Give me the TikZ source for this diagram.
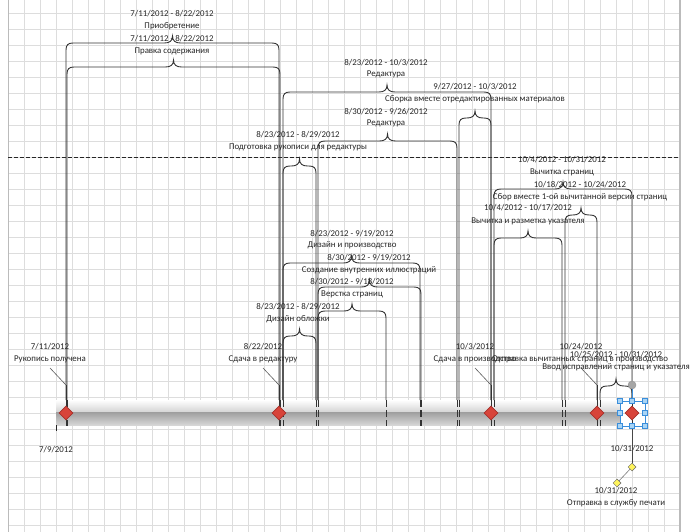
\documentclass[tikz,border=0pt]{standalone}
\usepackage{fontspec}
\setmainfont{Carlito}
\usetikzlibrary{calc,shapes.geometric}
\definecolor{ink}{HTML}{262626}
\definecolor{gridc}{HTML}{DDDDDD}
\definecolor{pagec}{HTML}{BBBBBB}
\definecolor{msred}{HTML}{D8443A}
\definecolor{msredd}{HTML}{A5302A}
\definecolor{selblue}{HTML}{3A8EDB}
\definecolor{selfill}{HTML}{A9D4F5}
\definecolor{ylw}{HTML}{FFF45C}
\definecolor{legc}{HTML}{333333}
\tikzset{
  lbl/.style={font=\fontsize{8.85}{10}\selectfont, text=ink, inner sep=0pt},
  brc/.style={draw=legc, line width=0.9pt},
  legdash/.style={draw=legc, line width=0.9pt, dash pattern=on 7pt off 3pt},
  msd/.style={diamond, draw=msredd, fill=msred, minimum width=14pt, minimum height=14pt, inner sep=0pt, line width=0.6pt},
  ymsd/.style={diamond, draw=ink!70, fill=ylw, minimum width=8pt, minimum height=8pt, inner sep=0pt, line width=0.5pt},
  handle/.style={rectangle, draw=selblue, fill=selfill, minimum size=5.5pt, inner sep=0pt, line width=0.7pt},
  leader/.style={draw=ink!75, line width=0.6pt}
}
\newcommand\tlbrace[3]{%
  \pgfmathsetmacro\bc{(#1+#2)/2}%
  \draw[brc] (#1,400) -- (#1,#3+7) .. controls (#1,#3+2) and (#1+2,#3) .. (#1+7,#3) -- (\bc-8,#3)
     .. controls (\bc-3,#3) and (\bc,#3-2) .. (\bc,#3-7)
     .. controls (\bc,#3-2) and (\bc+3,#3) .. (\bc+8,#3) -- (#2-7,#3)
     .. controls (#2-2,#3) and (#2,#3+2) .. (#2,#3+7) -- (#2,400);
  \draw[legdash] (#1,400) -- (#1,426) (#2,400) -- (#2,426);
}
\begin{document}
\begin{tikzpicture}[x=1pt,y=-1pt]
\useasboundingbox (0,0) rectangle (690,532);
\fill[white] (0,0) rectangle (690,532);
% grid
\foreach \i in {0,...,42} \draw[gridc, line width=0.6pt] (8.3+16*\i,0) -- (8.3+16*\i,532);
\foreach \j in {0,...,32} \draw[gridc, line width=0.6pt] (8.3,13.7+16*\j) -- (680,13.7+16*\j);
\draw[pagec, line width=1.2pt] (8.3,0) -- (8.3,532) (680,0) -- (680,532);
% dashed separator
\draw[ink, line width=0.8pt, dash pattern=on 4pt off 2pt] (8.3,157) -- (680,157);
% timeline bar
\begin{scope}[y=1pt]
\shade[top color=white, bottom color={rgb,255:red,212;green,212;blue,212}] (56,-412) rectangle (620,-400);
\shade[top color={rgb,255:red,158;green,158;blue,158}, bottom color={rgb,255:red,214;green,214;blue,214}] (56,-425) rectangle (620,-412);
\end{scope}
\draw[ink, line width=0.8pt] (56,425) -- (56,431);
% brackets
\tlbrace{66}{279}{43}
\tlbrace{67}{280}{67}
\tlbrace{283}{491}{92}
\tlbrace{459}{491}{118}
\tlbrace{318}{457}{141}
\tlbrace{283}{316}{166}
\tlbrace{494}{632}{189}
\tlbrace{565}{597}{215}
\tlbrace{494}{562}{238}
\tlbrace{283}{420}{263}
\tlbrace{318}{421}{287}
\tlbrace{318}{386}{311}
\tlbrace{283}{316}{336}
\tlbrace{600}{632}{386}
% milestone lines and leaders
\foreach \mx/\nm in {66/a,279/b,491/c,597/d}{
  \coordinate (t\nm) at (\mx,385);
  \coordinate (l\nm) at (\mx-16,368);
  \coordinate (e\nm) at (\mx,426);
  \draw[leader] (l\nm) -- (t\nm);
  \draw[brc] (t\nm) -- (e\nm);
}
% labels
\node[lbl] (t1) at (172,14) {7/11/2012 - 8/22/2012};
\node[lbl] (t2) at (172,26) {Приобретение};
\node[lbl] (t3) at (172,39) {7/11/2012 - 8/22/2012};
\node[lbl] (t4) at (172,51) {Правка содержания};
\node[lbl] (t5) at (386,63) {8/23/2012 - 10/3/2012};
\node[lbl] (t6) at (386,74) {Редактура};
\node[lbl] (t7) at (475,87) {9/27/2012 - 10/3/2012};
\node[lbl] (t8) at (475,99) {Сборка вместе отредактированных материалов};
\node[lbl] (t9) at (386,112) {8/30/2012 - 9/26/2012};
\node[lbl] (t10) at (386,123) {Редактура};
\node[lbl] (t11) at (298,135) {8/23/2012 - 8/29/2012};
\node[lbl] (t12) at (298,147) {Подготовка рукописи для редактуры};
\node[lbl] (t13) at (562,160) {10/4/2012 - 10/31/2012};
\node[lbl] (t14) at (562,172) {Вычитка страниц};
\node[lbl] (t15) at (580,185) {10/18/2012 - 10/24/2012};
\node[lbl] (t16) at (580,197) {Сбор вместе 1-ой вычитанной версии страниц};
\node[lbl] (t17) at (528,208) {10/4/2012 - 10/17/2012};
\node[lbl] (t18) at (528,221) {Вычитка и разметка указателя};
\node[lbl] (t19) at (352,234) {8/23/2012 - 9/19/2012};
\node[lbl] (t20) at (352,245) {Дизайн и производство};
\node[lbl] (t21) at (369,258) {8/30/2012 - 9/19/2012};
\node[lbl] (t22) at (369,270) {Создание внутренних иллюстраций};
\node[lbl] (t23) at (352,282) {8/30/2012 - 9/18/2012};
\node[lbl] (t24) at (352,294) {Верстка страниц};
\node[lbl] (t25) at (298,307) {8/23/2012 - 8/29/2012};
\node[lbl] (t26) at (298,319) {Дизайн обложки};
\node[lbl] (m1a) at (50,347) {7/11/2012};
\node[lbl] (m1b) at (50,359) {Рукопись получена};
\node[lbl] (m2a) at (263,347) {8/22/2012};
\node[lbl] (m2b) at (263,359) {Сдача в редактуру};
\node[lbl] (m3a) at (475,347) {10/3/2012};
\node[lbl] (m3b) at (475,359) {Сдача в производство};
\node[lbl] (m4a) at (581,347) {10/24/2012};
\node[lbl] (m4b) at (580,359) {Отправка вычитанных страниц в производство};
\node[lbl] (m5a) at (616,355) {10/25/2012 - 10/31/2012};
\node[lbl] (m5b) at (616,367) {Ввод исправлений страниц и указателя};
\node[lbl] (d0) at (56,450) {7/9/2012};
\node[lbl] (d1) at (632,449) {10/31/2012};
\node[lbl] (d2) at (616,491) {10/31/2012};
\node[lbl] (d3) at (616,503) {Отправка в службу печати};
% milestone diamonds
\node[msd] (ma) at (66,413) {};
\node[msd] (mb) at (279,413) {};
\node[msd] (mc) at (491,413) {};
\node[msd] (md) at (597,413) {};
% selected milestone
\node[circle, fill=gray!70, draw=gray!85, minimum size=8pt, inner sep=0pt] (gc) at (632,385) {};
\node[ymsd] (y1) at (632,467) {};
\node[ymsd] (y2) at (617,483) {};
\node[handle] (h1) at (620,401) {};
\node[handle] (h2) at (632,401) {};
\node[handle] (h3) at (645,401) {};
\node[handle] (h4) at (620,413) {};
\node[handle] (h5) at (645,413) {};
\node[handle] (h6) at (620,426) {};
\node[handle] (h7) at (632,426) {};
\node[handle] (h8) at (645,426) {};
\draw[selblue, line width=0.7pt] (h1) -- (h2) -- (h3) -- (h5) -- (h8) -- (h7) -- (h6) -- (h4) -- (h1);
\draw[selblue, line width=0.7pt] (gc) -- (h2);
\draw[ink!85, line width=0.8pt] (h7) -- (y1);
\draw[ink!60, line width=0.6pt] (y1) -- (y2);
\node[msd] (me) at (632,413) {};
\end{tikzpicture}
\end{document}
